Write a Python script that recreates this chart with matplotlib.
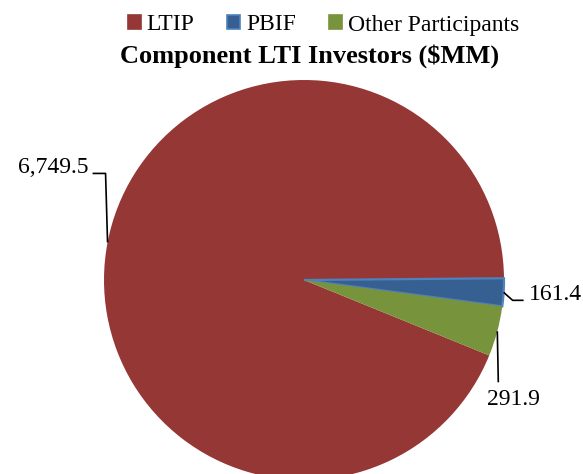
import numpy as np
import matplotlib
matplotlib.use("Agg")
import matplotlib.pyplot as plt
from matplotlib.patches import Patch

# data ($MM)
categories = ["LTIP", "PBIF", "Other Participants"]
values = [6749.5, 161.4, 291.9]
value_labels = ["6,749.5", "161.4", "291.9"]
colors = ["#953735", "#376092", "#77933C"]
edge_colors = ["#953735", "#4F81BD", "#77933C"]

plt.rcParams["font.family"] = ["Liberation Serif", "DejaVu Serif"]

W, H = 583, 474
fig = plt.figure(figsize=(W / 100, H / 100), dpi=100)
fig.patch.set_facecolor("white")
# axes in pixel units, y up
ax = fig.add_axes([0, 0, 1, 1])

center = (304, H - 280)
radius = 200
total = sum(values)
# LTIP goes first clockwise, ending just above 3 o'clock
start = -360 * (values[1] + values[2]) / total + 0.5
wedges, _ = ax.pie(values, colors=colors, startangle=start, counterclock=False,
                   center=center, radius=radius,
                   wedgeprops=dict(linewidth=0))
for w, ec in zip(wedges, edge_colors):
    w.set_edgecolor(ec)
wedges[1].set_linewidth(1.6)

ax.set_xlim(0, W)
ax.set_ylim(0, H)
ax.set_aspect("auto")
ax.axis("off")

# anchor points at wedge midpoints on the rim
def rim(w):
    a = np.deg2rad((w.theta1 + w.theta2) / 2)
    return center[0] + radius * np.cos(a), center[1] + radius * np.sin(a)

# leader offsets (px): elbow, end, text pos, alignment
leaders = [
    [(-2, 69), (-15, 69), (-19, 69), "right"],
    [(9, -8), (20, -8), (25, -8), "left"],
    [(1, -51), (1, -51), (-10, -74), "left"],
]
for w, lab, (el, en, tp, ha) in zip(wedges, value_labels, leaders):
    x0, y0 = rim(w)
    ax.plot([x0, x0 + el[0], x0 + en[0]], [y0, y0 + el[1], y0 + en[1]],
            color="black", lw=1.2, solid_capstyle="butt")
    ax.text(x0 + tp[0], y0 + tp[1], lab, ha=ha, va="baseline", fontsize=17)

ax.text(310, H - 56, "Component LTI Investors ($MM)", ha="center", va="center",
        fontsize=19, fontweight="bold")

handles = [Patch(facecolor=c, edgecolor=e, linewidth=1.2) for c, e in zip(colors, edge_colors)]
fig.legend(handles, categories, loc="center", bbox_to_anchor=(0.555, 1 - 25 / H),
           ncol=3, frameon=False, fontsize=17, handlelength=0.55, handleheight=0.55,
           handletextpad=0.25, columnspacing=1.4, borderpad=0)

fig.savefig("out.png", dpi=100)
